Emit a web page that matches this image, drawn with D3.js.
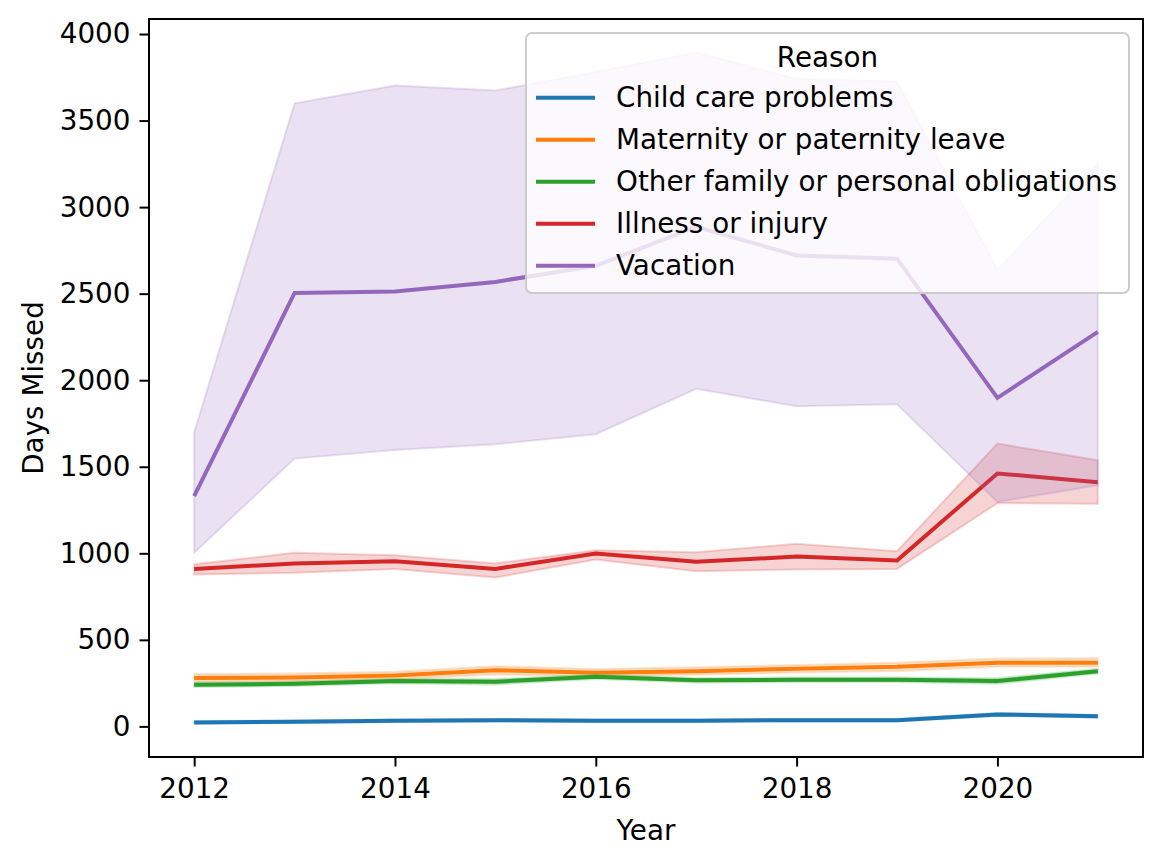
<!DOCTYPE html>
<html>
<head>
<meta charset="utf-8">
<script src="https://cdn.jsdelivr.net/npm/d3@7"></script>
<style>
  body { margin: 0; background: #fff; }
  text { font-family: "DejaVu Sans", sans-serif; }
</style>
</head>
<body>
<script>
// Data
const years = [2012, 2013, 2014, 2015, 2016, 2017, 2018, 2019, 2020, 2021];
const reasons = ['Child care problems', 'Maternity or paternity leave', 'Other family or personal obligations', 'Illness or injury', 'Vacation'];
const colors = ['#1f77b4', '#ff7f0e', '#2ca02c', '#d62728', '#9467bd'];

const childMean = [23, 27, 33, 36, 33, 33, 36, 36, 69, 58];
const childLow = [17, 20, 26, 29, 26, 26, 29, 29, 60, 50];
const childHigh = [31, 34, 40, 43, 40, 40, 43, 43, 78, 66];

const maternityMean = [279, 283, 294, 325, 310, 319, 333, 344, 368, 368];
const maternityLow = [258, 262, 272, 300, 290, 298, 311, 320, 344, 344];
const maternityHigh = [302, 305, 316, 348, 332, 341, 355, 368, 392, 394];

const otherMean = [241, 246, 262, 258, 287, 266, 270, 270, 262, 319];
const otherLow = [228, 233, 249, 242, 274, 253, 257, 257, 246, 305];
const otherHigh = [254, 259, 275, 274, 300, 279, 283, 283, 278, 333];

const illnessMean = [910, 941, 954, 910, 999, 951, 981, 958, 1461, 1411];
const illnessLow = [878, 887, 910, 860, 964, 897, 906, 910, 1290, 1287];
const illnessHigh = [937, 1003, 989, 941, 1018, 1006, 1055, 1012, 1634, 1538];

const vacationMean = [1330, 2504, 2513, 2568, 2661, 2886, 2721, 2702, 1898, 2279];
const vacationLow = [1003, 1547, 1597, 1630, 1688, 1950, 1849, 1861, 1297, 1393];
const vacationHigh = [1699, 3600, 3703, 3674, 3780, 3893, 3741, 3726, 2639, 3254];

const xTicks = [2012, 2014, 2016, 2018, 2020];
const yTicks = [0, 500, 1000, 1500, 2000, 2500, 3000, 3500, 4000];

const series = [
  { mean: childMean, low: childLow, high: childHigh },
  { mean: maternityMean, low: maternityLow, high: maternityHigh },
  { mean: otherMean, low: otherLow, high: otherHigh },
  { mean: illnessMean, low: illnessLow, high: illnessHigh },
  { mean: vacationMean, low: vacationLow, high: vacationHigh }
];

const width = 1161;
const height = 865;
const plot = { left: 149, right: 1143, top: 19, bottom: 757 };
const fontSize = 27.8;

const svg = d3.select('body')
  .append('svg')
  .attr('width', width)
  .attr('height', height);

svg.append('rect').attr('width', width).attr('height', height).attr('fill', '#fff');

// Scales with matplotlib-like 5% margins
const xPad = (d3.max(years) - d3.min(years)) * 0.05;
const x = d3.scaleLinear()
  .domain([d3.min(years) - xPad, d3.max(years) + xPad])
  .range([plot.left, plot.right]);

const yMin = d3.min(series, s => d3.min(s.low));
const yMax = d3.max(series, s => d3.max(s.high));
const yPad = (yMax - yMin) * 0.05;
const y = d3.scaleLinear()
  .domain([yMin - yPad, yMax + yPad])
  .range([plot.bottom, plot.top]);

const line = d3.line()
  .x((d, i) => x(years[i]))
  .y(d => y(d));

const area = d3.area()
  .x(d => x(d.year))
  .y0(d => y(d.low))
  .y1(d => y(d.high));

// Lines and confidence bands, drawn per reason in order
const marks = svg.append('g');
series.forEach((s, k) => {
  marks.append('path')
    .attr('d', line(s.mean))
    .attr('fill', 'none')
    .attr('stroke', colors[k])
    .attr('stroke-width', 4);

  const band = years.map((yr, i) => ({ year: yr, low: s.low[i], high: s.high[i] }));
  marks.append('path')
    .attr('d', area(band))
    .attr('fill', colors[k])
    .attr('fill-opacity', 0.2)
    .attr('stroke', colors[k])
    .attr('stroke-opacity', 0.2)
    .attr('stroke-width', 2);
});

// Axes
const xAxis = svg.append('g')
  .attr('transform', `translate(0, ${plot.bottom})`)
  .call(d3.axisBottom(x).tickValues(xTicks).tickFormat(d3.format('d')).tickSize(9.5).tickPadding(12));

const yAxis = svg.append('g')
  .attr('transform', `translate(${plot.left}, 0)`)
  .call(d3.axisLeft(y).tickValues(yTicks).tickFormat(d3.format('d')).tickSize(9.5).tickPadding(9));

[xAxis, yAxis].forEach(a => {
  a.select('.domain').remove();
  a.selectAll('line').attr('stroke', '#000').attr('stroke-width', 2);
  a.selectAll('text').attr('font-size', fontSize).attr('fill', '#000')
    .style('font-family', '"DejaVu Sans", sans-serif');
});

// Frame
svg.append('rect')
  .attr('x', plot.left)
  .attr('y', plot.top)
  .attr('width', plot.right - plot.left)
  .attr('height', plot.bottom - plot.top)
  .attr('fill', 'none')
  .attr('stroke', '#000')
  .attr('stroke-width', 2);

// Axis labels
svg.append('text')
  .attr('x', (plot.left + plot.right) / 2)
  .attr('y', 840)
  .attr('text-anchor', 'middle')
  .attr('font-size', fontSize)
  .text('Year');

svg.append('text')
  .attr('transform', `translate(43, ${(plot.top + plot.bottom) / 2}) rotate(-90)`)
  .attr('text-anchor', 'middle')
  .attr('font-size', fontSize)
  .text('Days Missed');

// Legend
const legend = svg.append('g').attr('transform', 'translate(526, 33)');

legend.append('rect')
  .attr('width', 603)
  .attr('height', 260)
  .attr('rx', 6)
  .attr('fill', '#fff')
  .attr('fill-opacity', 0.8)
  .attr('stroke', '#cccccc')
  .attr('stroke-width', 2);

legend.append('text')
  .attr('x', 301.5)
  .attr('y', 34)
  .attr('text-anchor', 'middle')
  .attr('font-size', fontSize)
  .text('Reason');

reasons.forEach((name, k) => {
  const cy = 64.7 + k * 42;
  legend.append('line')
    .attr('x1', 10).attr('x2', 69)
    .attr('y1', cy).attr('y2', cy)
    .attr('stroke', colors[k])
    .attr('stroke-width', 4);
  legend.append('text')
    .attr('x', 90)
    .attr('y', cy)
    .attr('dy', '0.35em')
    .attr('font-size', fontSize)
    .text(name);
});
</script>
</body>
</html>
